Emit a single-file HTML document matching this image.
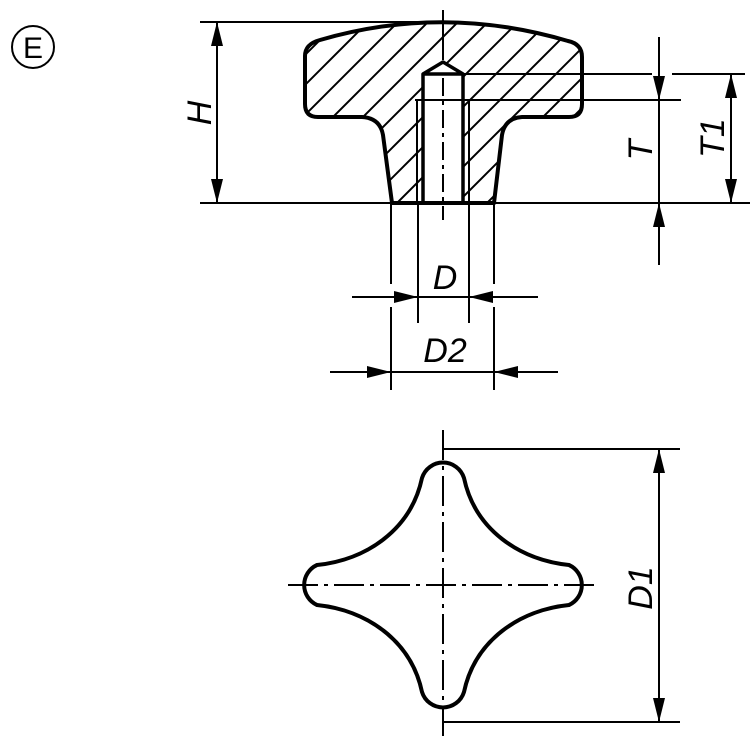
<!DOCTYPE html>
<html><head><style>body{margin:0;background:#fff}svg{display:block}text{font-family:"Liberation Sans",sans-serif;font-style:italic;font-size:34px;fill:#000}</style></head><body>
<svg width="750" height="747" viewBox="0 0 750 747" xmlns="http://www.w3.org/2000/svg">
<defs>
<clipPath id="k"><path d="M320,40 Q443,4 568,41 Q582,44 582,57 L582,104 Q582,117 569,117 L522,117 Q505,118 502,135 L494,203 L463,203 L463,74 L443,62 L423,74 L423,203 L392,203 L383,135 Q380,118 362,117 L318,117 Q305,117 305,104 L305,56 Q305,44 320,40 Z"/></clipPath>
<marker id="a" viewBox="0 0 24 12" refX="24" refY="6" markerWidth="24" markerHeight="12" markerUnits="userSpaceOnUse" orient="auto"><path d="M0,0 L24,6 L0,12 Z" fill="#000"/></marker>
</defs>
<circle cx="33" cy="47" r="21" fill="none" stroke="#000" stroke-width="2"/>
<text x="33" y="58" text-anchor="middle" style="font-style:normal;font-size:30px">E</text>
<g clip-path="url(#k)" stroke="#000" stroke-width="2">
<line x1="200" y1="250" x2="450" y2="0"/><line x1="230" y1="250" x2="480" y2="0"/><line x1="260" y1="250" x2="510" y2="0"/><line x1="290" y1="250" x2="540" y2="0"/><line x1="320" y1="250" x2="570" y2="0"/><line x1="350" y1="250" x2="600" y2="0"/><line x1="380" y1="250" x2="630" y2="0"/><line x1="410" y1="250" x2="660" y2="0"/><line x1="440" y1="250" x2="690" y2="0"/><line x1="470" y1="250" x2="720" y2="0"/><line x1="500" y1="250" x2="750" y2="0"/><line x1="530" y1="250" x2="780" y2="0"/><line x1="560" y1="250" x2="810" y2="0"/><line x1="170" y1="250" x2="420" y2="0"/><line x1="140" y1="250" x2="390" y2="0"/><line x1="110" y1="250" x2="360" y2="0"/>
</g>
<g fill="none" stroke="#000" stroke-width="4" stroke-linejoin="round">
<path d="M320,40 Q443,4 568,41 Q582,44 582,57 L582,104 Q582,117 569,117 L522,117 Q505,118 502,135 L494,203 L392,203 L383,135 Q380,118 362,117 L318,117 Q305,117 305,104 L305,56 Q305,44 320,40 Z"/>
<path d="M423,203 L423,74 L443,62 L463,74 L463,203 M423,74 L463,74" stroke-width="3.5"/>
<path d="M422,478 A22,22 0 0 1 464,478 C475,530 520,560 569,565 A22,22 0 0 1 569,605 C520,610 475,640 464,692 A22,22 0 0 1 422,692 C411,640 366,610 317,605 A22,22 0 0 1 317,565 C366,560 411,530 422,478 Z"/>
</g>
<g stroke="#000" stroke-width="2" fill="none">
<path d="M417,100 L417,203 M469,100 L469,203 M415,100 L471,100"/>
<line x1="443" y1="10" x2="443" y2="60"/>
<line x1="443" y1="78" x2="443" y2="220" stroke-dasharray="18,5,4,5"/>
<line x1="200" y1="22" x2="443" y2="22"/>
<line x1="200" y1="203" x2="750" y2="203"/>
<line x1="463" y1="74" x2="652" y2="74"/><line x1="672" y1="74" x2="745" y2="74"/>
<line x1="463" y1="100" x2="681" y2="100"/>
<line x1="217" y1="110" x2="217" y2="22" marker-end="url(#a)"/>
<line x1="217" y1="110" x2="217" y2="203" marker-end="url(#a)"/>
<line x1="659" y1="37" x2="659" y2="100" marker-end="url(#a)"/>
<line x1="659" y1="100" x2="659" y2="203"/>
<line x1="659" y1="265" x2="659" y2="203" marker-end="url(#a)"/>
<line x1="731" y1="140" x2="731" y2="74" marker-end="url(#a)"/>
<line x1="731" y1="140" x2="731" y2="203" marker-end="url(#a)"/>
<line x1="418" y1="203" x2="418" y2="323"/><line x1="469" y1="203" x2="469" y2="323"/>
<line x1="391" y1="203" x2="391" y2="284"/><line x1="391" y1="307" x2="391" y2="390"/>
<line x1="494" y1="203" x2="494" y2="284"/><line x1="494" y1="307" x2="494" y2="390"/>
<line x1="352" y1="297" x2="418" y2="297" marker-end="url(#a)"/>
<line x1="418" y1="297" x2="469" y2="297"/>
<line x1="538" y1="297" x2="469" y2="297" marker-end="url(#a)"/>
<line x1="330" y1="372" x2="391" y2="372" marker-end="url(#a)"/>
<line x1="391" y1="372" x2="494" y2="372"/>
<line x1="558" y1="372" x2="494" y2="372" marker-end="url(#a)"/>
<line x1="443" y1="430" x2="443" y2="740" stroke-dasharray="30,6,4,6"/>
<line x1="288" y1="585" x2="600" y2="585" stroke-dasharray="30,6,4,6"/>
<line x1="443" y1="449" x2="680" y2="449"/>
<line x1="443" y1="722" x2="680" y2="722"/>
<line x1="659" y1="585" x2="659" y2="449" marker-end="url(#a)"/>
<line x1="659" y1="585" x2="659" y2="722" marker-end="url(#a)"/>
</g>
<text transform="translate(211,113) rotate(-90)" text-anchor="middle">H</text>
<text transform="translate(652,150) rotate(-90)" text-anchor="middle">T</text>
<text transform="translate(724,138) rotate(-90)" text-anchor="middle">T1</text>
<text x="445" y="289" text-anchor="middle">D</text>
<text x="445" y="362" text-anchor="middle">D2</text>
<text transform="translate(652,588) rotate(-90)" text-anchor="middle">D1</text>
</svg>
</body></html>
